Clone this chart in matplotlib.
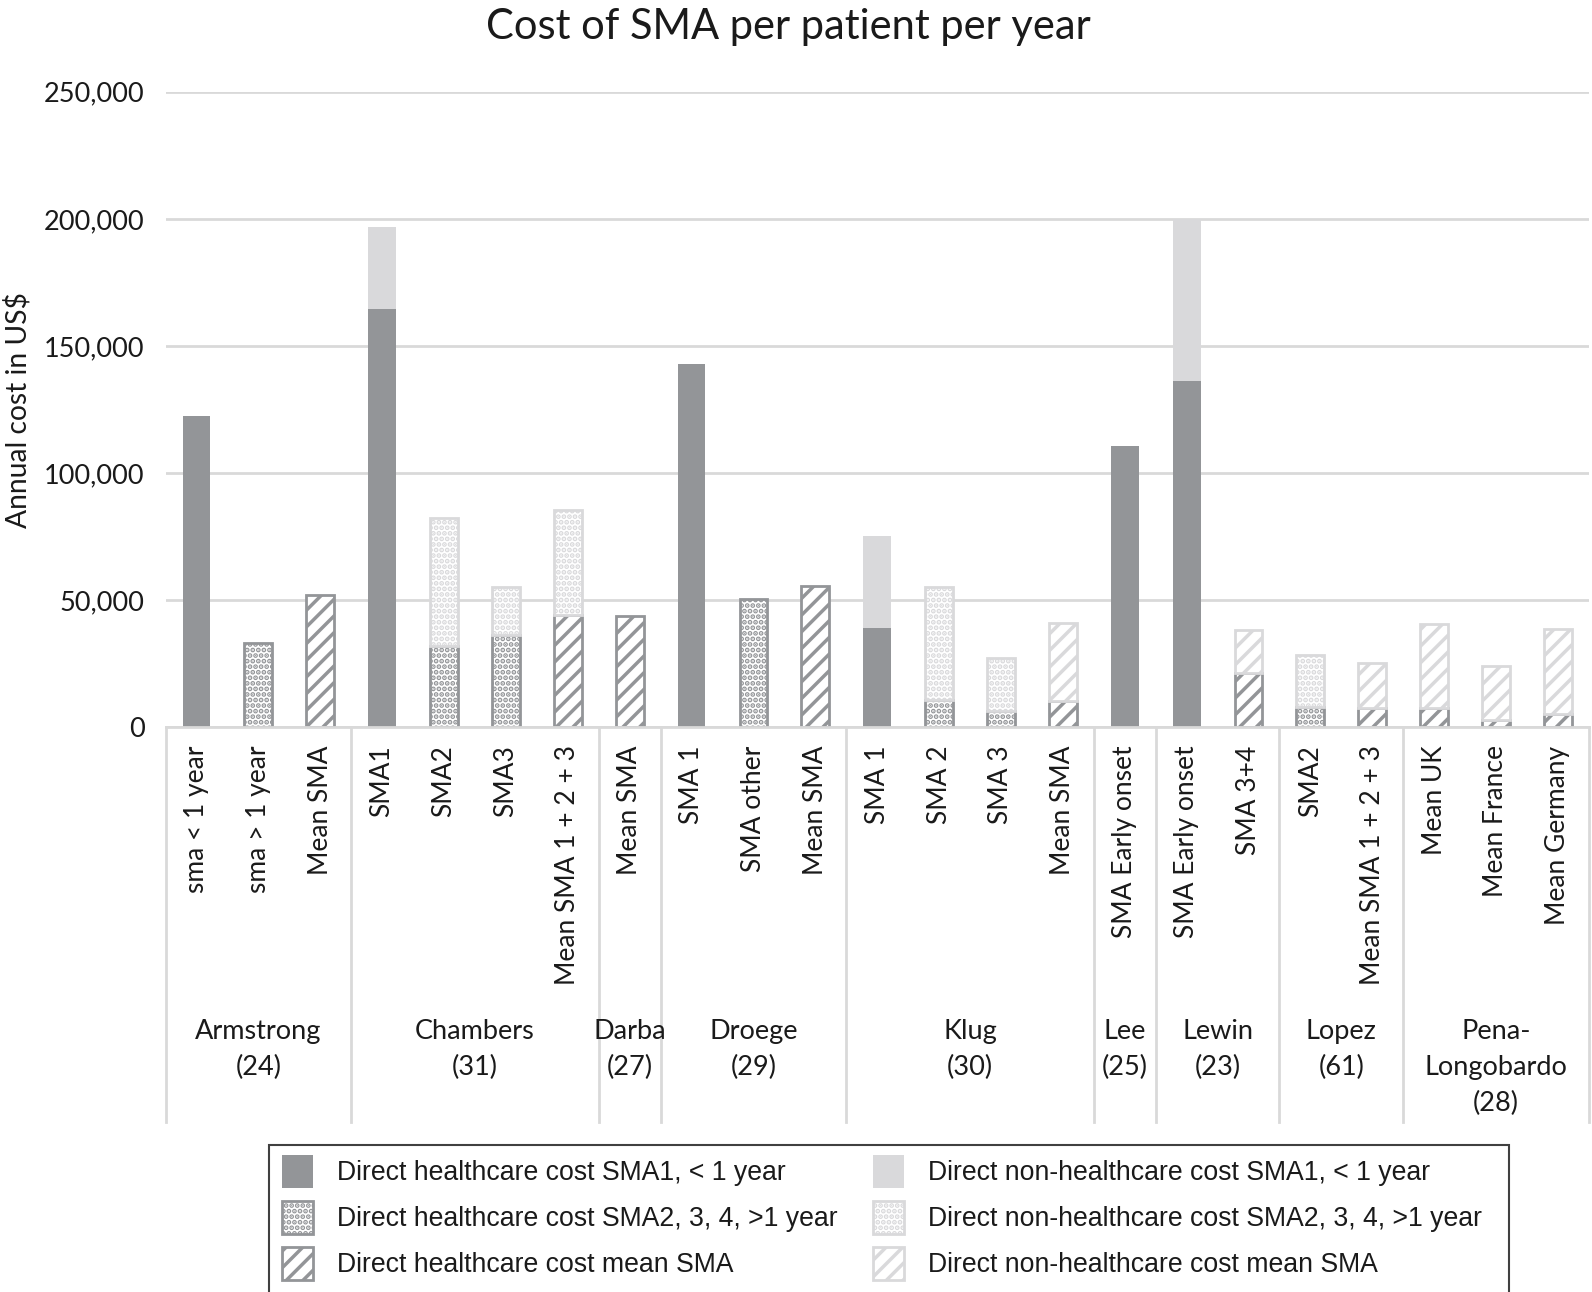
import numpy as np
import matplotlib.pyplot as plt
import matplotlib.transforms as mtransforms
from matplotlib.patches import Patch, Rectangle
from matplotlib.ticker import FuncFormatter

plt.rcParams['hatch.linewidth'] = 2.5

bar_labels = ['sma < 1 year', 'sma > 1 year', 'Mean SMA',
              'SMA1', 'SMA2', 'SMA3', 'Mean SMA 1 + 2 + 3',
              'Mean SMA',
              'SMA 1', 'SMA other', 'Mean SMA',
              'SMA 1', 'SMA 2', 'SMA 3', 'Mean SMA',
              'SMA Early onset',
              'SMA Early onset', 'SMA 3+4',
              'SMA2', 'Mean SMA 1 + 2 + 3',
              'Mean UK', 'Mean France', 'Mean Germany']
studies = ['Armstrong\n(24)', 'Chambers\n(31)', 'Darba\n(27)', 'Droege\n(29)', 'Klug\n(30)',
           'Lee\n(25)', 'Lewin\n(23)', 'Lopez\n(61)', 'Pena-\nLongobardo\n(28)']
study_sizes = [3, 4, 1, 3, 4, 1, 2, 2, 3]

# direct healthcare cost (dark)
hc_sma1 = [122400, 0, 0, 164400, 0, 0, 0, 0, 142800, 0, 0, 39200, 0, 0, 0, 110800, 136400, 0, 0, 0, 0, 0, 0]
hc_sma2 = [0, 33200, 0, 0, 32000, 36400, 0, 0, 0, 50400, 0, 0, 10800, 6400, 0, 0, 0, 0, 8000, 0, 0, 0, 0]
hc_mean = [0, 0, 52000, 0, 0, 0, 44400, 44000, 0, 0, 55600, 0, 0, 0, 10400, 0, 0, 21200, 0, 7600, 7600, 2800, 5200]
# direct non-healthcare cost (light)
nhc_sma1 = [0, 0, 0, 32400, 0, 0, 0, 0, 0, 0, 0, 36000, 0, 0, 0, 0, 63600, 0, 0, 0, 0, 0, 0]
nhc_sma2 = [0, 0, 0, 0, 50400, 18800, 41200, 0, 0, 0, 0, 0, 44400, 20800, 0, 0, 0, 0, 20400, 0, 0, 0, 0]
nhc_mean = [0, 0, 0, 0, 0, 0, 0, 0, 0, 0, 0, 0, 0, 0, 30800, 0, 0, 17200, 0, 17600, 33200, 21200, 33600]

DARK = '#939598'
LIGHT = '#d9d9db'
GRID = '#d9d9d9'
TXT = '#1a1a1a'
AXFONT = 'Lato'

series = [
    (hc_sma1, DARK, None, 'Direct healthcare cost SMA1, < 1 year'),
    (hc_sma2, DARK, '...', 'Direct healthcare cost SMA2, 3, 4, >1 year'),
    (hc_mean, DARK, '//', 'Direct healthcare cost mean SMA'),
    (nhc_sma1, LIGHT, None, 'Direct non-healthcare cost SMA1, < 1 year'),
    (nhc_sma2, LIGHT, '...', 'Direct non-healthcare cost SMA2, 3, 4, >1 year'),
    (nhc_mean, LIGHT, '//', 'Direct non-healthcare cost mean SMA'),
]

fig = plt.figure(figsize=(15.92, 12.92), dpi=100)
ax = fig.add_axes([0.104, 0.437, 0.894, 0.492])

x = np.arange(len(bar_labels))
bottom = np.zeros(len(x))
width = 0.45
handles = []
for vals, col, hatch, name in series:
    vals = np.array(vals, dtype=float)
    idx = np.nonzero(vals)[0]
    if hatch is None:
        ax.bar(x[idx], vals[idx], width, bottom=bottom[idx], color=col, linewidth=0, zorder=2)
        handles.append(Patch(facecolor=col, edgecolor=col, linewidth=0, label=name))
    else:
        ax.bar(x[idx], vals[idx], width, bottom=bottom[idx], facecolor='white', edgecolor=col,
               hatch=hatch, linewidth=2, zorder=2)
        handles.append(Patch(facecolor='white', edgecolor=col, hatch=hatch, linewidth=2, label=name))
    bottom += vals

ax.set_ylim(0, 250000)
ax.set_xlim(-0.5, len(x) - 0.5)
ax.set_yticks(np.arange(0, 250001, 50000))
ax.yaxis.set_major_formatter(FuncFormatter(lambda v, p: f'{int(v):,}'))
ax.grid(axis='y', color=GRID, linewidth=2, zorder=0)
ax.set_axisbelow(True)
for s in ['top', 'right', 'left']:
    ax.spines[s].set_visible(False)
ax.spines['bottom'].set_color(GRID)
ax.spines['bottom'].set_linewidth(2)

ax.set_xticks(x)
ax.set_xticklabels(bar_labels, rotation=90, fontsize=19, family=AXFONT, color=TXT)
ax.tick_params(axis='x', length=0, pad=13)
ax.tick_params(axis='y', length=0, pad=15, labelsize=19.5, labelcolor=TXT)
for t in ax.get_yticklabels():
    t.set_family(AXFONT)
ax.set_ylabel('Annual cost in US$', fontsize=20.3, family=AXFONT, color=TXT, labelpad=9)

# study grouping below the category labels
trans = mtransforms.blended_transform_factory(ax.transData, ax.transAxes)
bounds = np.concatenate([[0], np.cumsum(study_sizes)]) - 0.5
for b in bounds:
    ax.plot([b, b], [0, -0.621], transform=trans, color=GRID, linewidth=2, clip_on=False)
for i, name in enumerate(studies):
    cx = (bounds[i] + bounds[i + 1]) / 2
    ax.text(cx, -0.458, name, transform=trans, ha='center', va='top', fontsize=19.5,
            family=AXFONT, color=TXT, linespacing=1.56)

fig.text(0.495, 0.979, 'Cost of SMA per patient per year', ha='center', va='center',
         fontsize=30, family=AXFONT, color=TXT)

# legend with a box that runs off the bottom edge like the original
leg = fig.legend(handles=handles, ncol=2, loc='upper left',
                 bbox_to_anchor=(0.1773, 0.1059), frameon=False,
                 prop={'family': 'Liberation Sans', 'size': 19.15},
                 handlelength=1.17, handleheight=1.53, handletextpad=0.9,
                 labelspacing=0.48, columnspacing=1.3, borderaxespad=0, borderpad=0)
for t in leg.get_texts():
    t.set_color(TXT)
fig.patches.append(Rectangle((0.169, -0.01), 0.779, 0.1238, transform=fig.transFigure,
                             fill=False, edgecolor='#404040', linewidth=1.5))

fig.savefig('out.png', dpi=100)
